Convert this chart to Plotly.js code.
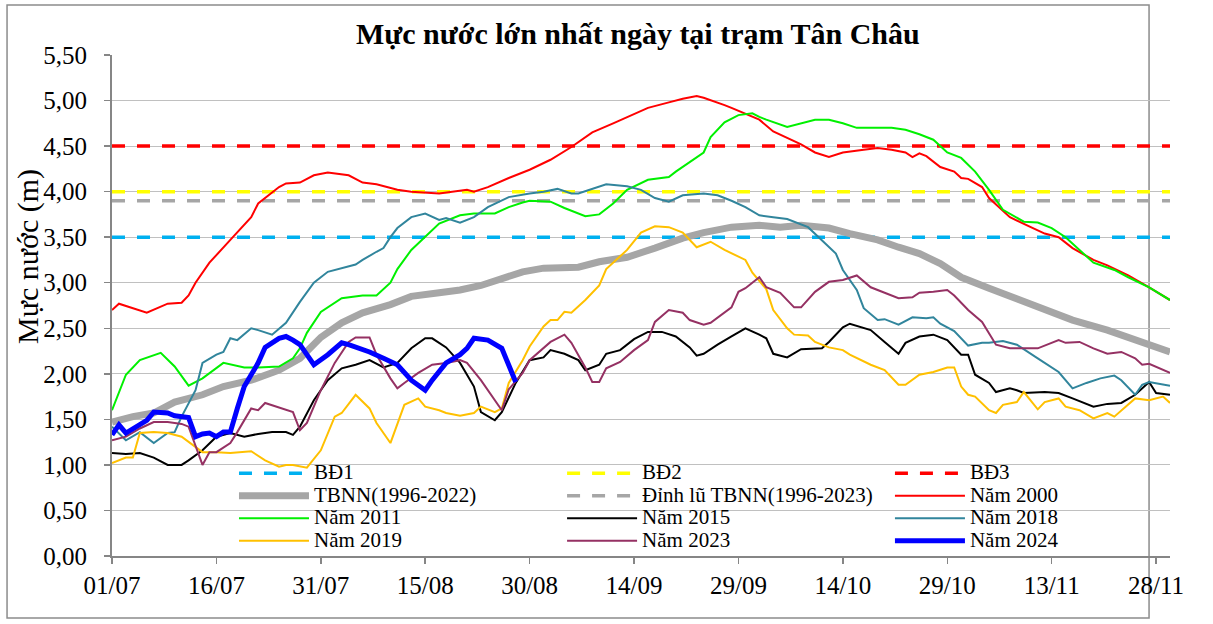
<!DOCTYPE html>
<html>
<head>
<meta charset="utf-8">
<script src="https://cdn.plot.ly/plotly-3.0.1.min.js"></script>
<style>html,body{margin:0;padding:0;background:#fff;}#chart{width:1213px;height:624px;}</style>
</head>
<body>
<div id="chart"></div>
<script>
// Day index: 0 = 01/07
const tickDays = [0, 15, 30, 45, 60, 75, 90, 105, 120, 135, 150];
const tickLabels = ["01/07", "16/07", "31/07", "15/08", "30/08", "14/09", "29/09", "14/10", "29/10", "13/11", "28/11"];
const lastDay = 152;

// Alarm levels (m)
const BD1 = 3.5, BD2 = 4.0, BD3 = 4.5, peakAvg = 3.9;

const tbnnDays = [0,3,6,9,13,16,20,23,24,27,30,33,36,40,43,47,50,53,56,59,62,67,70,74,78,82,85,89,93,96,99,101,103,106,110,113,116,119,122,126,130,134,138,143,147,152];
const tbnn     = [1.47,1.53,1.57,1.69,1.77,1.86,1.93,2.01,2.04,2.17,2.4,2.56,2.67,2.76,2.85,2.89,2.92,2.97,3.04,3.12,3.16,3.17,3.23,3.28,3.38,3.49,3.55,3.61,3.63,3.61,3.63,3.61,3.6,3.54,3.47,3.39,3.32,3.21,3.06,2.94,2.83,2.70,2.59,2.48,2.37,2.24];

const y2000Days = [0,1,5,8,10,11,12,14,17,20,21,24,25,27,29,31,34,36,38,40,41,43,47,51,52,54,57,60,63,66,69,72,74,77,80,82,84,85,88,89,93,95,99,101,103,105,108,110,112,114,115,116,117,119,121,122,123,125,126,129,132,134,136,138,141,143,146,149,152];
const y2000     = [2.70,2.77,2.67,2.77,2.78,2.86,3.0,3.22,3.47,3.72,3.87,4.05,4.09,4.1,4.18,4.21,4.18,4.1,4.08,4.04,4.02,4.0,3.98,4.02,4.0,4.05,4.15,4.24,4.35,4.49,4.65,4.75,4.82,4.92,4.98,5.02,5.05,5.03,4.95,4.92,4.79,4.66,4.52,4.43,4.38,4.43,4.46,4.48,4.46,4.43,4.38,4.42,4.39,4.27,4.22,4.15,4.14,4.05,3.93,3.72,3.61,3.54,3.50,3.38,3.25,3.19,3.08,2.95,2.81];

const y2011Days = [0,2,4,7,9,11,13,16,19,21,24,26,27,28,30,33,36,38,40,41,43,45,47,50,52,55,57,59,60,63,65,68,70,72,74,77,80,81,83,85,86,88,90,92,93,94,97,99,101,103,105,107,110,112,114,116,118,120,122,124,126,128,131,133,135,137,139,141,144,146,149,152];
const y2011     = [1.60,1.99,2.15,2.23,2.08,1.87,1.95,2.12,2.07,2.07,2.08,2.17,2.28,2.45,2.68,2.83,2.86,2.86,3.0,3.15,3.36,3.5,3.65,3.74,3.76,3.76,3.83,3.88,3.9,3.89,3.82,3.73,3.75,3.87,4.02,4.13,4.16,4.22,4.33,4.43,4.6,4.76,4.84,4.86,4.82,4.79,4.71,4.75,4.79,4.79,4.75,4.70,4.70,4.70,4.68,4.63,4.57,4.43,4.37,4.22,4.02,3.80,3.67,3.66,3.6,3.5,3.36,3.22,3.14,3.06,2.95,2.81];

const y2015Days = [0,2,4,6,8,10,11,13,15,17,19,21,23,25,26,27,29,31,33,35,37,39,41,43,45,46,48,50,52,53,55,56,58,60,62,63,65,67,68,70,71,73,75,77,79,81,83,84,85,87,89,91,93,94,95,97,99,102,103,105,106,108,109,111,113,114,116,118,120,122,123,124,126,127,129,130,131,134,136,138,141,143,145,147,149,150,152];
const y2015     = [1.13,1.12,1.13,1.08,1.0,1.0,1.05,1.16,1.31,1.35,1.31,1.34,1.36,1.36,1.33,1.42,1.71,1.93,2.06,2.1,2.15,2.07,2.12,2.28,2.39,2.39,2.29,2.12,1.86,1.58,1.49,1.58,1.9,2.15,2.18,2.26,2.22,2.15,2.04,2.1,2.22,2.26,2.38,2.46,2.46,2.41,2.29,2.2,2.22,2.32,2.41,2.5,2.43,2.39,2.22,2.18,2.27,2.28,2.35,2.51,2.55,2.5,2.48,2.35,2.22,2.34,2.41,2.43,2.37,2.21,2.21,1.99,1.90,1.8,1.84,1.82,1.79,1.8,1.79,1.73,1.64,1.67,1.68,1.77,1.91,1.79,1.77];

const y2018Days = [0,2,4,6,8,9,10,12,13,15,16,17,18,20,21,23,25,27,29,31,35,36,38,39,40,41,43,45,47,48,50,52,54,57,60,62,64,66,67,70,71,74,76,78,80,82,85,87,89,91,93,95,97,100,102,104,105,107,108,110,111,113,115,117,118,119,121,123,125,126,128,130,133,136,138,140,142,144,145,147,148,149,152];
const y2018     = [1.42,1.27,1.36,1.24,1.35,1.36,1.53,1.82,2.12,2.21,2.24,2.39,2.37,2.5,2.48,2.43,2.56,2.79,3.0,3.12,3.2,3.25,3.34,3.38,3.5,3.6,3.72,3.76,3.69,3.71,3.66,3.72,3.83,3.94,3.98,4.0,4.03,3.98,3.98,4.05,4.08,4.06,4.02,3.93,3.89,3.96,3.98,3.96,3.9,3.83,3.74,3.72,3.70,3.61,3.47,3.32,3.14,2.92,2.72,2.59,2.6,2.54,2.62,2.61,2.62,2.55,2.47,2.31,2.34,2.34,2.36,2.32,2.17,2.02,1.84,1.90,1.95,1.98,1.93,1.77,1.88,1.91,1.87];

const y2019Days = [0,2,3,4,6,8,10,12,13,15,17,20,22,24,25,26,28,30,32,33,35,37,38,40,41,42,44,45,47,48,50,52,53,55,56,57,59,60,62,63,64,65,66,68,70,71,74,76,78,80,82,84,86,88,91,92,94,95,97,98,100,101,103,105,106,109,111,113,114,116,118,120,121,122,123,124,126,127,128,130,131,133,134,136,137,139,141,143,144,147,149,151,152];
const y2019     = [1.02,1.08,1.08,1.35,1.36,1.35,1.31,1.20,1.14,1.14,1.13,1.15,1.05,0.98,1.0,1.0,0.97,1.16,1.53,1.57,1.77,1.62,1.46,1.24,1.44,1.66,1.73,1.64,1.60,1.57,1.54,1.57,1.64,1.58,1.62,1.90,2.15,2.3,2.52,2.59,2.59,2.68,2.67,2.81,2.97,3.15,3.36,3.55,3.62,3.61,3.55,3.39,3.45,3.36,3.25,3.11,2.93,2.7,2.5,2.43,2.42,2.35,2.29,2.26,2.21,2.1,2.04,1.88,1.88,1.99,2.02,2.07,2.07,1.86,1.77,1.75,1.6,1.57,1.66,1.69,1.80,1.61,1.69,1.73,1.64,1.60,1.51,1.57,1.53,1.73,1.71,1.75,1.68];

const y2023Days = [0,2,4,6,8,10,11,12,13,14,15,17,18,20,21,22,24,26,27,28,30,32,34,35,37,38,40,41,42,44,46,48,50,51,53,55,56,57,59,60,63,65,66,68,69,70,71,73,75,77,78,80,82,83,85,86,88,89,90,91,93,94,96,98,99,101,103,105,107,109,113,115,116,118,120,121,123,125,127,129,131,133,136,137,139,141,143,145,147,148,149,152];
const y2023     = [1.27,1.31,1.4,1.47,1.47,1.45,1.42,1.2,1.0,1.14,1.14,1.24,1.36,1.62,1.60,1.68,1.63,1.58,1.38,1.46,1.82,2.12,2.35,2.4,2.4,2.21,1.95,1.84,1.9,2.01,2.1,2.12,2.15,2.12,1.93,1.71,1.60,1.83,2.01,2.15,2.35,2.43,2.34,2.07,1.91,1.91,2.06,2.13,2.26,2.37,2.57,2.7,2.67,2.59,2.54,2.56,2.68,2.73,2.9,2.94,3.06,2.95,2.89,2.73,2.73,2.9,3.01,3.03,3.08,2.95,2.83,2.84,2.89,2.9,2.92,2.86,2.7,2.57,2.32,2.28,2.28,2.28,2.37,2.34,2.35,2.28,2.22,2.24,2.17,2.1,2.11,2.01];

const y2024Days = [0,1,2,4,5,6,8,9,11,12,13,14,15,16,17,18,19,21,22,24,25,26,27,28,29,31,33,34,36,37,39,41,43,45,46,48,50,51,52,54,56,57,58];
const y2024     = [1.33,1.44,1.35,1.44,1.49,1.58,1.57,1.54,1.52,1.31,1.34,1.35,1.31,1.36,1.36,1.62,1.86,2.12,2.29,2.39,2.41,2.37,2.32,2.21,2.1,2.21,2.34,2.32,2.27,2.24,2.17,2.1,1.93,1.82,1.93,2.12,2.21,2.28,2.39,2.37,2.28,2.1,1.91];

const lbl = t => '<span style="font-size:21px">' + t + '</span>';
const flat = v => [v, v];
const span = [0, lastDay];
const dash = '13px,12px';

const traces = [
  {x: span, y: flat(BD1), name: lbl('BĐ1'), legend: 'legend', line: {color: '#00B0F0', width: 3.5, dash: dash}},
  {x: span, y: flat(BD2), name: lbl('BĐ2'), legend: 'legend2', line: {color: '#FFFF00', width: 3.5, dash: dash}},
  {x: span, y: flat(BD3), name: lbl('BĐ3'), legend: 'legend3', line: {color: '#FF0000', width: 3.5, dash: dash}},
  {x: tbnnDays, y: tbnn, name: lbl('TBNN(1996-2022)'), legend: 'legend', line: {color: '#A6A6A6', width: 7}},
  {x: span, y: flat(peakAvg), name: lbl('Đỉnh lũ TBNN(1996-2023)'), legend: 'legend2', line: {color: '#A6A6A6', width: 3.5, dash: dash}},
  {x: y2000Days, y: y2000, name: lbl('Năm 2000'), legend: 'legend3', line: {color: '#FF0000', width: 2}},
  {x: y2011Days, y: y2011, name: lbl('Năm 2011'), legend: 'legend', line: {color: '#00F000', width: 2}},
  {x: y2015Days, y: y2015, name: lbl('Năm 2015'), legend: 'legend2', line: {color: '#000000', width: 2}},
  {x: y2018Days, y: y2018, name: lbl('Năm 2018'), legend: 'legend3', line: {color: '#31859C', width: 2}},
  {x: y2019Days, y: y2019, name: lbl('Năm 2019'), legend: 'legend', line: {color: '#FFC000', width: 2}},
  {x: y2023Days, y: y2023, name: lbl('Năm 2023'), legend: 'legend2', line: {color: '#953163', width: 2}},
  {x: y2024Days, y: y2024, name: lbl('Năm 2024'), legend: 'legend3', line: {color: '#0000FF', width: 5}}
].map(t => Object.assign({type: 'scatter', mode: 'lines', hoverinfo: 'skip'}, t));

const legendBase = {orientation: 'v', xanchor: 'left', y: 0.1976, yanchor: 'top',
  bgcolor: 'rgba(0,0,0,0)', borderwidth: 0, font: {size: 15, color: '#000'},
  itemwidth: 70, traceorder: 'normal'};

const axisGray = '#868686';
const layout = {
  width: 1213, height: 624,
  margin: {l: 112, r: 43, t: 55, b: 68},
  paper_bgcolor: '#ffffff', plot_bgcolor: '#ffffff',
  separators: ', ',
  font: {family: '"Liberation Serif", "Times New Roman", serif', color: '#000'},
  title: {text: '<b>Mực nước lớn nhất ngày tại trạm Tân Châu</b>', font: {size: 30, color: '#000'},
          x: 0.497, xref: 'paper', xanchor: 'center', y: 0.947, yanchor: 'middle'},
  xaxis: {range: [0, lastDay], tickmode: 'array', tickvals: tickDays, ticktext: tickLabels,
          showgrid: false, zeroline: false, showline: true, linecolor: axisGray, linewidth: 2,
          ticks: 'outside', ticklen: 6, tickcolor: axisGray, tickwidth: 1.5,
          tickfont: {size: 25}, ticklabelstandoff: 0},
  yaxis: {range: [0, 5.5], dtick: 0.5, tick0: 0, tickformat: '.2f',
          showgrid: true, gridcolor: '#C0C0C0', gridwidth: 1, zeroline: false,
          showline: true, linecolor: axisGray, linewidth: 2,
          ticks: 'outside', ticklen: 6, tickcolor: axisGray, tickwidth: 1.5,
          tickfont: {size: 25}, ticklabelstandoff: 12},
  annotations: [{text: 'Mực nước (m)', textangle: -90, xref: 'paper', yref: 'paper',
                 x: -0.0794, y: 0.599, xanchor: 'center', yanchor: 'middle', showarrow: false,
                 font: {size: 30, color: '#000'}}],
  showlegend: true,
  legend: Object.assign({}, legendBase, {x: 0.1153}),
  legend2: Object.assign({}, legendBase, {x: 0.4254}),
  legend3: Object.assign({}, legendBase, {x: 0.7353}),
  shapes: [{type: 'rect', xref: 'paper', yref: 'paper', x0: -0.0992, x1: 0.9802, y0: -0.1238, y1: 1.0998,
            line: {color: '#8c8c8c', width: 1.5}, fillcolor: 'rgba(0,0,0,0)', layer: 'below'}]
};

Plotly.newPlot('chart', traces, layout, {displayModeBar: false, staticPlot: true});
</script>
</body>
</html>
